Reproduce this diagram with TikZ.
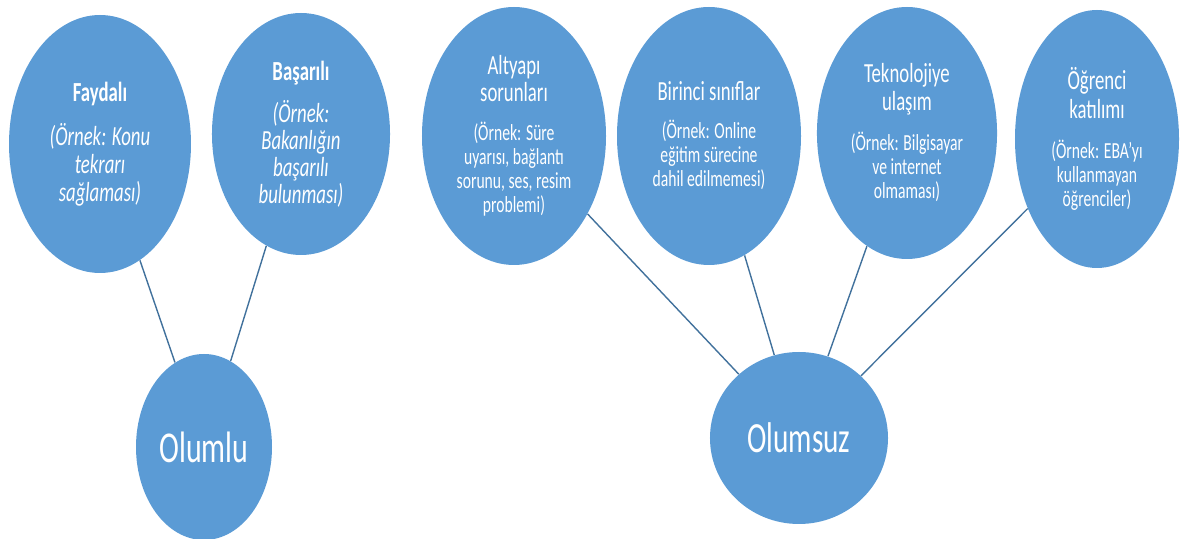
\documentclass[tikz,border=0pt]{standalone}
\usepackage{fontspec}
\setmainfont{Carlito}
\usetikzlibrary{shapes.geometric}
\definecolor{bubblefill}{HTML}{5B9BD5}
\definecolor{linkline}{HTML}{41719C}
\newcommand{\hd}{\fontsize{13.8}{14}\selectfont}
\newcommand{\hdb}{\fontsize{13.8}{14}\selectfont\bfseries}
\newcommand{\exi}{\fontsize{13.8}{14}\selectfont\itshape}
\tikzset{
    bubble/.style = {ellipse, fill=bubblefill, text=white, align=center, inner sep=0pt, xscale=0.68, transform shape, font=\fontsize{11.5}{12}\selectfont},
    root-bubble/.style = {bubble, font=\fontsize{22}{24}\selectfont},
    link/.style = {draw=linkline, line width=0.7pt},
}

\begin{document}
\lineskiplimit=-20pt
\begin{tikzpicture}[x=0.5pt, y=-0.5pt]
\useasboundingbox (0,0) rectangle (1180,539);

% positive side
\node[bubble, minimum width=133.8pt, minimum height=129pt] (faydali) at (100,144)
    {\hdb Faydalı\\[10pt] \exi (Örnek: Konu\\[2pt] \exi tekrarı\\[2pt] \exi sağlaması)};
\node[bubble, minimum width=130.9pt, minimum height=121pt] (basarili) at (301,134)
    {\hdb Başarılı\\[9pt] \exi (Örnek:\\[1.5pt] \exi Bakanlığın\\[1.5pt] \exi başarılı\\[1.5pt] \exi bulunması)};
\node[root-bubble, minimum width=100pt, minimum height=93pt] (olumlu) at (204,447) {Olumlu};

% negative side
\node[bubble, minimum width=135.3pt, minimum height=129pt] (altyapi) at (514,136)
    {\hd Altyapı\\[1.5pt] \hd sorunları\\[7.5pt] (Örnek: Süre\\ uyarısı, bağlantı\\ sorunu, ses, resim\\ problemi)};
\node[bubble, minimum width=135.3pt, minimum height=129pt] (birinci) at (709,136)
    {\hd Birinci sınıflar\\[7pt] (Örnek: Online\\ eğitim sürecine\\ dahil edilmemesi)};
\node[bubble, minimum width=132.4pt, minimum height=126pt] (teknoloji) at (907,133)
    {\hd Teknolojiye\\[2pt] \hd ulaşım\\[8pt] (Örnek: Bilgisayar\\ ve internet\\ olmaması)};
\node[bubble, minimum width=120.6pt, minimum height=129pt] (ogrenci) at (1097,139)
    {\hd Öğrenci\\[2.5pt] \hd katılımı\\[8pt] (Örnek: EBA’yı\\ kullanmayan\\ öğrenciler)};
\node[root-bubble, font=\fontsize{21.5}{24}\selectfont, minimum width=130.9pt, minimum height=86pt] (olumsuz) at (799,438) {Olumsuz};

\draw[link] (faydali) -- (olumlu);
\draw[link] (basarili) -- (olumlu);
\foreach \src in {altyapi,birinci,teknoloji,ogrenci}
    \draw[link] (\src) -- (olumsuz);
\end{tikzpicture}
\end{document}
